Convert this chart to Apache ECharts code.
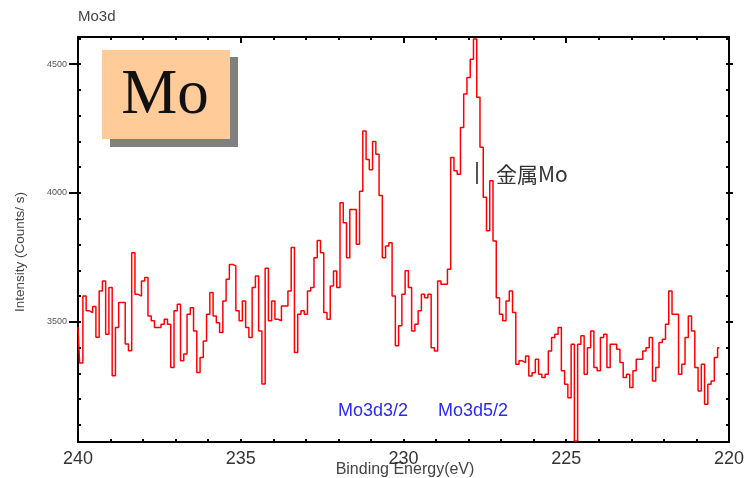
<!DOCTYPE html>
<html>
<head>
<meta charset="utf-8">
<script src="https://cdn.jsdelivr.net/npm/echarts@6/dist/echarts.min.js"></script>
<style>
html,body{margin:0;padding:0;background:#fff;}
#chart{width:747px;height:478px;}
</style>
</head>
<body>
<div id="chart"></div>
<script>
// Binding energy (eV), 0.1 eV steps
const energies = [
240.0,239.9,239.8,239.7,239.6,239.5,239.4,239.3,239.2,239.1,
239.0,238.9,238.8,238.7,238.6,238.5,238.4,238.3,238.2,238.1,
238.0,237.9,237.8,237.7,237.6,237.5,237.4,237.3,237.2,237.1,
237.0,236.9,236.8,236.7,236.6,236.5,236.4,236.3,236.2,236.1,
236.0,235.9,235.8,235.7,235.6,235.5,235.4,235.3,235.2,235.1,
235.0,234.9,234.8,234.7,234.6,234.5,234.4,234.3,234.2,234.1,
234.0,233.9,233.8,233.7,233.6,233.5,233.4,233.3,233.2,233.1,
233.0,232.9,232.8,232.7,232.6,232.5,232.4,232.3,232.2,232.1,
232.0,231.9,231.8,231.7,231.6,231.5,231.4,231.3,231.2,231.1,
231.0,230.9,230.8,230.7,230.6,230.5,230.4,230.3,230.2,230.1,
230.0,229.9,229.8,229.7,229.6,229.5,229.4,229.3,229.2,229.1,
229.0,228.9,228.8,228.7,228.6,228.5,228.4,228.3,228.2,228.1,
228.0,227.9,227.8,227.7,227.6,227.5,227.4,227.3,227.2,227.1,
227.0,226.9,226.8,226.7,226.6,226.5,226.4,226.3,226.2,226.1,
226.0,225.9,225.8,225.7,225.6,225.5,225.4,225.3,225.2,225.1,
225.0,224.9,224.8,224.7,224.6,224.5,224.4,224.3,224.2,224.1,
224.0,223.9,223.8,223.7,223.6,223.5,223.4,223.3,223.2,223.1,
223.0,222.9,222.8,222.7,222.6,222.5,222.4,222.3,222.2,222.1,
222.0,221.9,221.8,221.7,221.6,221.5,221.4,221.3,221.2,221.1,
221.0,220.9,220.8,220.7,220.6,220.5,220.4,220.3
];
// Intensity (Counts/s)
const intensity = [
3480,3340,3600,3543,3536,3560,3440,3620,3659,3452,
3633,3291,3478,3575,3575,3414,3388,3768,3607,3600,
3659,3672,3523,3504,3478,3478,3491,3510,3491,3323,
3543,3568,3349,3375,3530,3555,3465,3304,3362,3426,
3530,3614,3523,3497,3459,3581,3665,3723,3717,3543,
3504,3581,3478,3439,3633,3678,3465,3259,3708,3504,
3581,3510,3504,3562,3562,3620,3788,3381,3530,3543,
3530,3620,3633,3749,3816,3768,3536,3510,3639,3697,
3633,3962,3884,3749,3936,3936,3801,4007,4240,4130,
4090,4200,4150,3990,3749,3794,3807,3600,3407,3485,
3607,3698,3633,3465,3491,3543,3607,3594,3607,3400,
3387,3659,3646,3646,3704,4138,4086,4073,4254,4384,
4448,4519,4597,4371,4177,3983,3853,4047,3814,3594,
3530,3504,3581,3620,3536,3336,3349,3342,3368,3290,
3303,3355,3297,3284,3297,3387,3439,3452,3478,3310,
3258,3206,3413,3038,3413,3446,3297,3400,3465,3323,
3310,3439,3452,3323,3413,3413,3394,3342,3284,3297,
3245,3310,3355,3355,3387,3400,3439,3271,3323,3420,
3433,3491,3620,3530,3530,3297,3336,3439,3523,3465,
3323,3232,3336,3180,3258,3271,3362,3400
];
const xLabels = [240, 235, 230, 225, 220];
const yLabels = [3500, 4000, 4500];
const yMinorTicks = [3100,3200,3300,3400,3500,3600,3700,3800,3900,4000,4100,4200,4300,4400,4500,4600];
const peakLabels = ['Mo3d3/2', 'Mo3d5/2'];
const title = 'Mo3d';
const xName = 'Binding Energy(eV)';
const yName = 'Intensity (Counts/ s)';
const boxText = 'Mo';
const metalLabel = '金属Mo';

const Y_MIN = 3034, Y_MAX = 4605;
const seriesData = energies.map((e, i) => [e, intensity[i]]);

const chart = echarts.init(document.getElementById('chart'), null, {renderer: 'canvas'});
const black = '#000';
const baseX = {
  type: 'value', min: 220, max: 240, inverse: true, gridIndex: 0,
  splitLine: {show: false}
};
const baseY = {
  type: 'value', min: Y_MIN, max: Y_MAX, gridIndex: 0,
  splitLine: {show: false}
};
const option = {
  animation: false,
  backgroundColor: '#fff',
  grid: {left: 78, right: 15, top: 37, bottom: 36, containLabel: false},
  xAxis: [
    Object.assign({}, baseX, {
      position: 'bottom', interval: 1,
      axisLine: {show: true, lineStyle: {color: black, width: 2}},
      axisTick: {show: true, inside: true, length: 3, lineStyle: {color: black, width: 2}},
      axisLabel: {
        show: true, margin: 8, fontSize: 18, color: '#333', fontFamily: 'Liberation Sans',
        formatter: v => (xLabels.indexOf(Math.round(v)) >= 0 && Math.abs(v - Math.round(v)) < 1e-6) ? String(Math.round(v)) : ''
      }
    }),
    Object.assign({}, baseX, {
      position: 'top', interval: 1,
      axisLine: {show: true, lineStyle: {color: black, width: 2}},
      axisTick: {show: true, inside: true, length: 3, lineStyle: {color: black, width: 2}},
      axisLabel: {show: false}
    }),
    Object.assign({}, baseX, {
      position: 'top', interval: 5,
      axisLine: {show: false},
      axisTick: {show: true, inside: true, length: 6, lineStyle: {color: black, width: 2}},
      axisLabel: {show: false}
    })
  ],
  yAxis: [
    Object.assign({}, baseY, {
      position: 'left',
      axisLine: {show: true, lineStyle: {color: black, width: 2}},
      axisTick: {show: true, inside: false, length: 9, customValues: yLabels, lineStyle: {color: black, width: 2}},
      axisLabel: {show: true, customValues: yLabels, margin: 11, fontSize: 9, color: '#555', fontFamily: 'Liberation Sans',
        formatter: v => String(Math.round(v))}
    }),
    Object.assign({}, baseY, {
      position: 'left',
      axisLine: {show: false},
      axisTick: {show: true, inside: true, length: 3, customValues: yMinorTicks, lineStyle: {color: black, width: 2}},
      axisLabel: {show: false}
    }),
    Object.assign({}, baseY, {
      position: 'right',
      axisLine: {show: true, lineStyle: {color: black, width: 2}},
      axisTick: {show: true, inside: true, length: 3, customValues: yMinorTicks, lineStyle: {color: black, width: 2}},
      axisLabel: {show: false}
    }),
    Object.assign({}, baseY, {
      position: 'right',
      axisLine: {show: false},
      axisTick: {show: true, inside: false, length: 4, customValues: yLabels, lineStyle: {color: black, width: 2}},
      axisLabel: {show: false}
    })
  ],
  series: [{
    type: 'line',
    xAxisIndex: 0, yAxisIndex: 0,
    data: seriesData,
    step: 'middle',
    showSymbol: false,
    symbol: 'none',
    lineStyle: {color: '#ff0000', width: 1.5},
    z: 3
  }],
  graphic: [
    {type: 'text', x: 78, y: 17, style: {text: title, fontSize: 15, fill: '#444', fontFamily: 'Liberation Sans', verticalAlign: 'middle'}},
    {type: 'text', x: 405, y: 470, style: {text: xName, fontSize: 16, fill: '#444', fontFamily: 'Liberation Sans', align: 'center', verticalAlign: 'middle'}},
    {type: 'text', x: 20, y: 252, rotation: Math.PI / 2, style: {text: yName, fontSize: 13.5, fill: '#444', fontFamily: 'Liberation Sans', align: 'center', verticalAlign: 'middle'}},
    {type: 'rect', shape: {x: 110, y: 57, width: 128, height: 90}, style: {fill: '#808080'}, z: 10},
    {type: 'rect', shape: {x: 102, y: 50, width: 128, height: 89}, style: {fill: '#ffcc99'}, z: 11},
    {type: 'text', x: 165, y: 96, style: {text: boxText, fontSize: 63, fill: '#111', fontFamily: 'Liberation Serif', align: 'center', verticalAlign: 'middle'}, z: 12},
    {type: 'line', shape: {x1: 477, y1: 162, x2: 477, y2: 184}, style: {stroke: '#555', lineWidth: 2}, z: 12},
    {type: 'text', x: 496, y: 174, style: {text: metalLabel, fontSize: 21, fill: '#333', fontFamily: 'Noto Sans CJK JP', verticalAlign: 'middle'}, z: 12},
    {type: 'text', x: 338, y: 411, style: {text: peakLabels[0], fontSize: 18, fill: '#2a2af0', fontFamily: 'Liberation Sans', verticalAlign: 'middle'}, z: 12},
    {type: 'text', x: 438, y: 411, style: {text: peakLabels[1], fontSize: 18, fill: '#2a2af0', fontFamily: 'Liberation Sans', verticalAlign: 'middle'}, z: 12}
  ]
};
chart.setOption(option);
</script>
</body>
</html>
